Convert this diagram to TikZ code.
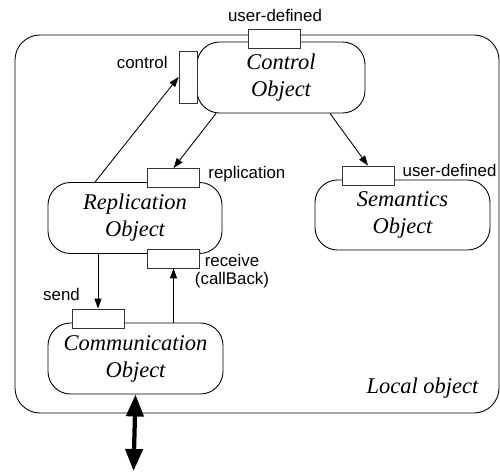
\documentclass[tikz,border=0pt]{standalone}
\usepackage{fontspec}
\setmainfont{Liberation Serif}
\setsansfont{Liberation Sans}
\usepackage{tikz}
\usetikzlibrary{arrows.meta,positioning}

\begin{document}
\begin{tikzpicture}[
      font=\fontsize{12.8}{15.3}\selectfont\itshape,
      line width=0.5pt,
      >={Triangle[length=2mm,width=1.4mm]},
      obj/.style={rectangle,rounded corners=0.45cm,draw,fill=white,
                  minimum width=3.48cm,minimum height=1.42cm,align=center,inner sep=1pt},
      port/.style={rectangle,draw=black!80,fill=white,minimum width=1.04cm,minimum height=0.38cm,
                   inner sep=0pt,line width=0.45pt},
      vport/.style={port,minimum width=0.36cm,minimum height=1.04cm},
      lbl/.style={font=\sffamily\fontsize{9.6}{10.5}\selectfont,inner sep=0pt,align=center},
      ar/.style={->},
      net/.style={{Triangle[length=4.4mm,width=3.4mm]}-{Triangle[length=4.4mm,width=3.4mm]},
                  line width=0.085cm}]
    \useasboundingbox (0,0) rectangle (10,-9.42);

    % ---------- local object frame ----------
    \node[draw,rounded corners=0.5cm,minimum width=9.68cm,minimum height=7.56cm,
          inner sep=0pt] (local) at (5.14,-4.48) {};
    \node (lname) at (8.45,-7.76) {Local object};

    % ---------- objects ----------
    \node[obj,minimum width=3.36cm] (ctrl) at (5.62,-1.55) {Control\\Object};
    \node[obj] (repl) at (2.70,-4.36) {Replication\\Object};
    \node[obj,minimum width=3.50cm] (comm) at (2.71,-7.17) {Communication\\Object};
    \node[obj,minimum width=3.50cm,minimum height=1.40cm] (sem) at (8.05,-4.30) {Semantics\\Object};

    % ---------- ports ----------
    \node[port]  (ctrlTop)  at (5.49,-0.77) {};
    \node[vport] (ctrlPort) at (3.76,-1.54) {};
    \node[port]  (replPort) at (3.47,-3.56) {};
    \node[port]  (recvPort) at (3.47,-5.17) {};
    \node[port]  (sendPort) at (1.96,-6.37) {};
    \node[port]  (semPort)  at (7.36,-3.51) {};

    % ---------- port labels ----------
    \node[lbl] at (5.50,-0.30) {user-defined};
    \node[lbl,anchor=east] at (3.36,-1.24) {control};
    \node[lbl,anchor=west] at (4.16,-3.48) {replication};
    \node[lbl] at (4.64,-5.42) {receive\\(callBack)};
    \node[lbl] at (1.23,-5.88) {send};
    \node[lbl] at (8.99,-3.40) {user-defined};

    % ---------- connectors ----------
    \draw[ar] ([xshift=-1.30cm]ctrl.south) -- (replPort.north);
    \draw[ar] ([xshift=0.98cm]ctrl.south) -- (semPort.north);
    \draw[ar] ([xshift=-0.80cm]repl.north) -- (ctrlPort.west);
    \draw[ar] (sendPort.north |- repl.south) -- (sendPort.north);
    \draw[ar] (recvPort.south |- comm.north) -- (recvPort.south);
    \coordinate (netEnd) at (2.67,-9.42);
    \draw[net] (comm.south) -- (netEnd);
  \end{tikzpicture}
\end{document}
